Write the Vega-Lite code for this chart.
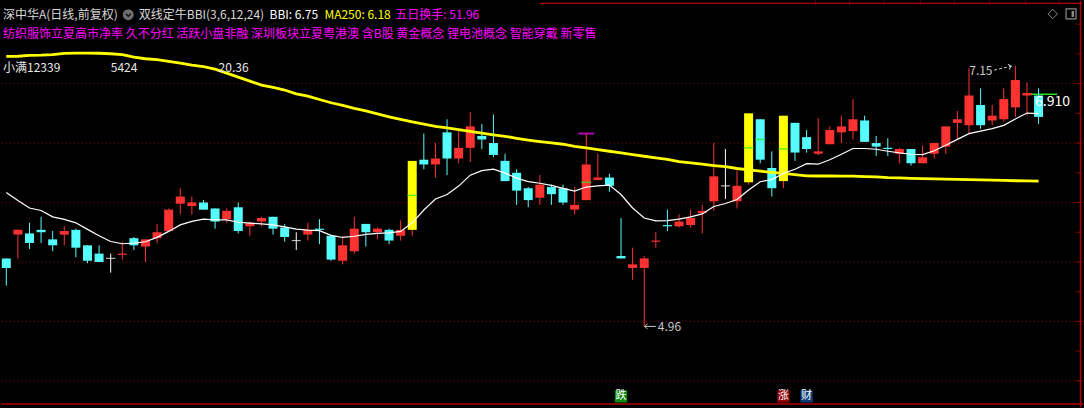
{
  "$schema": "https://vega.github.io/schema/vega-lite/v6.json",
  "width": 1084,
  "height": 408,
  "autosize": {"type": "fit", "contains": "padding"},
  "padding": 0,
  "background": "#000000",
  "config": {"view": {"stroke": null}, "font": "Noto Sans CJK SC", "scale": {"continuousPadding": 0}},
  "datasets": {
    "k": [
      {"i": 1, "o": 5.53, "c": 5.45, "h": 5.53, "l": 5.30, "t": "dn", "bbi": 6.085, "ma": 7.229},
      {"i": 2, "o": 5.73, "c": 5.77, "h": 5.77, "l": 5.53, "t": "up", "bbi": 6.017, "ma": 7.230},
      {"i": 3, "o": 5.74, "c": 5.66, "h": 5.83, "l": 5.61, "t": "dn", "bbi": 5.954, "ma": 7.237},
      {"i": 4, "o": 5.77, "c": 5.75, "h": 5.88, "l": 5.66, "t": "dn", "bbi": 5.933, "ma": 7.239},
      {"i": 5, "o": 5.69, "c": 5.64, "h": 5.76, "l": 5.59, "t": "dn", "bbi": 5.879, "ma": 7.244},
      {"i": 6, "o": 5.73, "c": 5.76, "h": 5.80, "l": 5.64, "t": "up", "bbi": 5.858, "ma": 7.255},
      {"i": 7, "o": 5.77, "c": 5.62, "h": 5.78, "l": 5.54, "t": "dn", "bbi": 5.829, "ma": 7.257},
      {"i": 8, "o": 5.64, "c": 5.51, "h": 5.64, "l": 5.49, "t": "dn", "bbi": 5.774, "ma": 7.257},
      {"i": 9, "o": 5.57, "c": 5.50, "h": 5.64, "l": 5.50, "t": "dn", "bbi": 5.720, "ma": 7.255},
      {"i": 10, "o": 5.53, "c": 5.53, "h": 5.57, "l": 5.41, "t": "flat", "bbi": 5.672, "ma": 7.251},
      {"i": 11, "o": 5.56, "c": 5.57, "h": 5.67, "l": 5.52, "t": "up", "bbi": 5.653, "ma": 7.243},
      {"i": 12, "o": 5.70, "c": 5.64, "h": 5.71, "l": 5.60, "t": "dn", "bbi": 5.659, "ma": 7.222},
      {"i": 13, "o": 5.63, "c": 5.69, "h": 5.69, "l": 5.50, "t": "up", "bbi": 5.670, "ma": 7.209},
      {"i": 14, "o": 5.70, "c": 5.75, "h": 5.82, "l": 5.66, "t": "up", "bbi": 5.707, "ma": 7.201},
      {"i": 15, "o": 5.76, "c": 5.94, "h": 5.95, "l": 5.76, "t": "up", "bbi": 5.757, "ma": 7.186},
      {"i": 16, "o": 5.99, "c": 6.05, "h": 6.12, "l": 5.90, "t": "up", "bbi": 5.812, "ma": 7.172},
      {"i": 17, "o": 5.97, "c": 6.00, "h": 6.05, "l": 5.90, "t": "up", "bbi": 5.841, "ma": 7.155},
      {"i": 18, "o": 6.00, "c": 5.94, "h": 6.02, "l": 5.94, "t": "dn", "bbi": 5.860, "ma": 7.142},
      {"i": 19, "o": 5.95, "c": 5.84, "h": 5.95, "l": 5.78, "t": "dn", "bbi": 5.854, "ma": 7.121},
      {"i": 20, "o": 5.86, "c": 5.93, "h": 5.95, "l": 5.83, "t": "up", "bbi": 5.854, "ma": 7.088},
      {"i": 21, "o": 5.96, "c": 5.76, "h": 6.00, "l": 5.74, "t": "dn", "bbi": 5.834, "ma": 7.054},
      {"i": 22, "o": 5.80, "c": 5.83, "h": 5.84, "l": 5.72, "t": "up", "bbi": 5.826, "ma": 7.021},
      {"i": 23, "o": 5.84, "c": 5.87, "h": 5.88, "l": 5.80, "t": "up", "bbi": 5.820, "ma": 6.988},
      {"i": 24, "o": 5.88, "c": 5.78, "h": 5.88, "l": 5.73, "t": "dn", "bbi": 5.812, "ma": 6.968},
      {"i": 25, "o": 5.79, "c": 5.71, "h": 5.82, "l": 5.67, "t": "dn", "bbi": 5.795, "ma": 6.946},
      {"i": 26, "o": 5.68, "c": 5.68, "h": 5.75, "l": 5.60, "t": "flat", "bbi": 5.776, "ma": 6.914},
      {"i": 27, "o": 5.73, "c": 5.77, "h": 5.83, "l": 5.68, "t": "up", "bbi": 5.767, "ma": 6.895},
      {"i": 28, "o": 5.78, "c": 5.77, "h": 5.86, "l": 5.65, "t": "dn", "bbi": 5.764, "ma": 6.866},
      {"i": 29, "o": 5.72, "c": 5.52, "h": 5.73, "l": 5.51, "t": "dn", "bbi": 5.724, "ma": 6.839},
      {"i": 30, "o": 5.51, "c": 5.64, "h": 5.72, "l": 5.48, "t": "up", "bbi": 5.706, "ma": 6.816},
      {"i": 31, "o": 5.59, "c": 5.78, "h": 5.88, "l": 5.57, "t": "up", "bbi": 5.716, "ma": 6.791},
      {"i": 32, "o": 5.82, "c": 5.75, "h": 5.82, "l": 5.63, "t": "dn", "bbi": 5.732, "ma": 6.770},
      {"i": 33, "o": 5.75, "c": 5.78, "h": 5.79, "l": 5.69, "t": "up", "bbi": 5.741, "ma": 6.745},
      {"i": 34, "o": 5.77, "c": 5.68, "h": 5.78, "l": 5.65, "t": "dn", "bbi": 5.745, "ma": 6.721},
      {"i": 35, "o": 5.72, "c": 5.77, "h": 5.85, "l": 5.68, "t": "up", "bbi": 5.757, "ma": 6.699},
      {"i": 36, "o": 5.77, "c": 6.35, "h": 6.35, "l": 5.72, "t": "zt", "bbi": 5.829, "ma": 6.678},
      {"i": 37, "o": 6.36, "c": 6.32, "h": 6.58, "l": 6.28, "t": "dn", "bbi": 5.937, "ma": 6.659},
      {"i": 38, "o": 6.32, "c": 6.37, "h": 6.50, "l": 6.21, "t": "up", "bbi": 6.029, "ma": 6.640},
      {"i": 39, "o": 6.59, "c": 6.37, "h": 6.70, "l": 6.23, "t": "dn", "bbi": 6.067, "ma": 6.628},
      {"i": 40, "o": 6.37, "c": 6.46, "h": 6.60, "l": 6.33, "t": "up", "bbi": 6.138, "ma": 6.613},
      {"i": 41, "o": 6.46, "c": 6.64, "h": 6.76, "l": 6.34, "t": "up", "bbi": 6.230, "ma": 6.598},
      {"i": 42, "o": 6.56, "c": 6.53, "h": 6.66, "l": 6.45, "t": "dn", "bbi": 6.268, "ma": 6.583},
      {"i": 43, "o": 6.50, "c": 6.40, "h": 6.74, "l": 6.38, "t": "dn", "bbi": 6.280, "ma": 6.569},
      {"i": 44, "o": 6.35, "c": 6.18, "h": 6.41, "l": 6.18, "t": "dn", "bbi": 6.247, "ma": 6.557},
      {"i": 45, "o": 6.25, "c": 6.10, "h": 6.28, "l": 5.98, "t": "dn", "bbi": 6.205, "ma": 6.540},
      {"i": 46, "o": 6.12, "c": 6.02, "h": 6.13, "l": 5.96, "t": "dn", "bbi": 6.176, "ma": 6.525},
      {"i": 47, "o": 6.04, "c": 6.15, "h": 6.23, "l": 5.98, "t": "up", "bbi": 6.162, "ma": 6.512},
      {"i": 48, "o": 6.13, "c": 6.07, "h": 6.15, "l": 5.98, "t": "dn", "bbi": 6.144, "ma": 6.501},
      {"i": 49, "o": 6.12, "c": 6.00, "h": 6.15, "l": 5.98, "t": "dn", "bbi": 6.119, "ma": 6.490},
      {"i": 50, "o": 5.94, "c": 5.98, "h": 6.13, "l": 5.90, "t": "up", "bbi": 6.096, "ma": 6.473},
      {"i": 51, "o": 6.02, "c": 6.32, "h": 6.58, "l": 6.02, "t": "up", "bbi": 6.130, "ma": 6.459},
      {"i": 52, "o": 6.19, "c": 6.21, "h": 6.41, "l": 6.19, "t": "up", "bbi": 6.140, "ma": 6.444},
      {"i": 53, "o": 6.21, "c": 6.14, "h": 6.24, "l": 6.09, "t": "dn", "bbi": 6.147, "ma": 6.431},
      {"i": 54, "o": 5.55, "c": 5.53, "h": 5.87, "l": 5.53, "t": "dn", "bbi": 6.067, "ma": 6.417},
      {"i": 55, "o": 5.45, "c": 5.48, "h": 5.62, "l": 5.35, "t": "up", "bbi": 5.954, "ma": 6.403},
      {"i": 56, "o": 5.45, "c": 5.53, "h": 5.55, "l": 4.96, "t": "up", "bbi": 5.870, "ma": 6.389},
      {"i": 57, "o": 5.67, "c": 5.68, "h": 5.75, "l": 5.62, "t": "up", "bbi": 5.845, "ma": 6.375},
      {"i": 58, "o": 5.81, "c": 5.80, "h": 5.94, "l": 5.76, "t": "dn", "bbi": 5.847, "ma": 6.362},
      {"i": 59, "o": 5.80, "c": 5.84, "h": 5.90, "l": 5.79, "t": "up", "bbi": 5.860, "ma": 6.343},
      {"i": 60, "o": 5.81, "c": 5.87, "h": 5.94, "l": 5.79, "t": "up", "bbi": 5.879, "ma": 6.333},
      {"i": 61, "o": 5.91, "c": 5.93, "h": 5.98, "l": 5.74, "t": "up", "bbi": 5.904, "ma": 6.322},
      {"i": 62, "o": 6.01, "c": 6.22, "h": 6.50, "l": 5.93, "t": "up", "bbi": 5.967, "ma": 6.311},
      {"i": 63, "o": 6.14, "c": 6.14, "h": 6.45, "l": 6.03, "t": "flat", "bbi": 5.992, "ma": 6.301},
      {"i": 64, "o": 6.01, "c": 6.14, "h": 6.27, "l": 5.95, "t": "up", "bbi": 6.025, "ma": 6.286},
      {"i": 65, "o": 6.17, "c": 6.75, "h": 6.75, "l": 6.15, "t": "zt", "bbi": 6.105, "ma": 6.275},
      {"i": 66, "o": 6.70, "c": 6.36, "h": 6.70, "l": 6.33, "t": "dn", "bbi": 6.175, "ma": 6.264},
      {"i": 67, "o": 6.29, "c": 6.12, "h": 6.43, "l": 6.05, "t": "dn", "bbi": 6.193, "ma": 6.254},
      {"i": 68, "o": 6.18, "c": 6.73, "h": 6.73, "l": 6.12, "t": "zt", "bbi": 6.245, "ma": 6.245},
      {"i": 69, "o": 6.67, "c": 6.42, "h": 6.67, "l": 6.35, "t": "dn", "bbi": 6.280, "ma": 6.234},
      {"i": 70, "o": 6.55, "c": 6.45, "h": 6.61, "l": 6.42, "t": "dn", "bbi": 6.327, "ma": 6.224},
      {"i": 71, "o": 6.41, "c": 6.43, "h": 6.71, "l": 6.40, "t": "up", "bbi": 6.322, "ma": 6.223},
      {"i": 72, "o": 6.49, "c": 6.61, "h": 6.64, "l": 6.49, "t": "up", "bbi": 6.360, "ma": 6.223},
      {"i": 73, "o": 6.59, "c": 6.64, "h": 6.73, "l": 6.50, "t": "up", "bbi": 6.406, "ma": 6.222},
      {"i": 74, "o": 6.60, "c": 6.70, "h": 6.87, "l": 6.53, "t": "up", "bbi": 6.454, "ma": 6.222},
      {"i": 75, "o": 6.69, "c": 6.51, "h": 6.73, "l": 6.51, "t": "dn", "bbi": 6.454, "ma": 6.218},
      {"i": 76, "o": 6.50, "c": 6.47, "h": 6.56, "l": 6.39, "t": "dn", "bbi": 6.448, "ma": 6.216},
      {"i": 77, "o": 6.46, "c": 6.45, "h": 6.54, "l": 6.39, "t": "dn", "bbi": 6.431, "ma": 6.209},
      {"i": 78, "o": 6.41, "c": 6.45, "h": 6.46, "l": 6.33, "t": "up", "bbi": 6.417, "ma": 6.207},
      {"i": 79, "o": 6.45, "c": 6.33, "h": 6.45, "l": 6.31, "t": "dn", "bbi": 6.406, "ma": 6.203},
      {"i": 80, "o": 6.33, "c": 6.38, "h": 6.48, "l": 6.33, "t": "up", "bbi": 6.403, "ma": 6.201},
      {"i": 81, "o": 6.41, "c": 6.50, "h": 6.50, "l": 6.37, "t": "up", "bbi": 6.435, "ma": 6.198},
      {"i": 82, "o": 6.47, "c": 6.64, "h": 6.64, "l": 6.41, "t": "up", "bbi": 6.481, "ma": 6.197},
      {"i": 83, "o": 6.67, "c": 6.70, "h": 6.77, "l": 6.53, "t": "up", "bbi": 6.531, "ma": 6.195},
      {"i": 84, "o": 6.65, "c": 6.90, "h": 7.13, "l": 6.58, "t": "up", "bbi": 6.579, "ma": 6.193},
      {"i": 85, "o": 6.82, "c": 6.65, "h": 6.96, "l": 6.62, "t": "dn", "bbi": 6.601, "ma": 6.191},
      {"i": 86, "o": 6.69, "c": 6.73, "h": 6.82, "l": 6.65, "t": "up", "bbi": 6.621, "ma": 6.188},
      {"i": 87, "o": 6.70, "c": 6.87, "h": 6.96, "l": 6.68, "t": "up", "bbi": 6.649, "ma": 6.186},
      {"i": 88, "o": 6.80, "c": 7.03, "h": 7.15, "l": 6.72, "t": "up", "bbi": 6.703, "ma": 6.183},
      {"i": 89, "o": 6.90, "c": 6.92, "h": 7.01, "l": 6.73, "t": "up", "bbi": 6.752, "ma": 6.182},
      {"i": 90, "o": 6.90, "c": 6.72, "h": 6.96, "l": 6.66, "t": "dn", "bbi": 6.747, "ma": 6.180}
    ],
    "avg": [
      {"i": 36, "p": 6.06},
      {"i": 51, "p": 6.17},
      {"i": 65, "p": 6.46},
      {"i": 66, "p": 6.53},
      {"i": 68, "p": 6.45}
    ],
    "grid": [{"p": 7.0}, {"p": 6.5}, {"p": 6.0}, {"p": 5.5}, {"p": 5.0}, {"p": 4.5}],
    "ticks": [
      {"p": 7.5}, {"p": 7.25}, {"p": 7.0}, {"p": 6.75}, {"p": 6.5}, {"p": 6.25}, {"p": 6.0},
      {"p": 5.75}, {"p": 5.5}, {"p": 5.25}, {"p": 5.0}, {"p": 4.75}, {"p": 4.5}
    ],
    "topTicks": [
      {"i": 70.77}, {"i": 73.70}, {"i": 76.71}, {"i": 79.81},
      {"i": 82.74}, {"i": 85.76}, {"i": 88.86}, {"i": 91.78}
    ],
    "txt": [
      {"i": 0.716, "p": 7.579, "s": "深中华A(日线,前复权)", "k": "title"},
      {"i": 12.42, "p": 7.579, "s": "双线定牛BBI(3,6,12,24)", "k": "title"},
      {"i": 23.694, "p": 7.579, "s": "BBI: 6.75", "k": "bbi"},
      {"i": 28.427, "p": 7.579, "s": "MA250: 6.18", "k": "ma"},
      {"i": 34.537, "p": 7.579, "s": "五日换手: 51.96", "k": "hs"},
      {"i": 0.716, "p": 7.421, "s": "纺织服饰立夏高市净率 久不分红 活跃小盘非融 深圳板块立夏粤港澳 含B股 黄金概念 锂电池概念 智能穿戴 新零售", "k": "hs"},
      {"i": 0.716, "p": 7.128, "s": "小满12339", "k": "note"},
      {"i": 10.01, "p": 7.128, "s": "5424", "k": "note"},
      {"i": 19.305, "p": 7.128, "s": "20.36", "k": "note"},
      {"i": 84.02, "p": 7.109, "s": "7.15", "k": "mark"},
      {"i": 57.17, "p": 4.950, "s": "4.96", "k": "mark"}
    ],
    "hiArrow": [{"i": 86.17, "p": 7.113}, {"i": 87.64, "p": 7.146}],
    "loArrow": [{"i": 56.05, "p": 4.958}, {"i": 57.0, "p": 4.958}],
    "tags": [
      {"i": 54, "p": 4.370, "s": "跌"},
      {"i": 68, "p": 4.370, "s": "涨"},
      {"i": 70, "p": 4.370, "s": "财"}
    ]
  },
  "layer": [
    {
      "data": {"name": "grid"},
      "mark": {"type": "rule", "stroke": "#8B0000", "strokeWidth": 1, "strokeDash": [1, 3]},
      "encoding": {
        "y": {"field": "p", "type": "quantitative", "scale": {"domain": [4.2803, 7.6946], "nice": false, "zero": false, "padding": 0}, "axis": null}
      }
    },
    {
      "data": {"values": [{}]},
      "mark": {"type": "rule", "stroke": "#B00000", "strokeWidth": 1.5},
      "encoding": {
        "x": {"datum": 93.617, "type": "quantitative", "scale": {"domain": [0.544, 93.83], "nice": false, "zero": false, "padding": 0}, "axis": null}
      }
    },
    {
      "data": {"values": [{}]},
      "mark": {"type": "rule", "stroke": "#B00000", "strokeWidth": 1.5},
      "encoding": {
        "y": {"datum": 4.3055, "type": "quantitative", "scale": {"domain": [4.2803, 7.6946], "nice": false, "zero": false, "padding": 0}, "axis": null}
      }
    },
    {
      "data": {"values": [{}]},
      "mark": {"type": "rule", "stroke": "#B00000", "strokeWidth": 1.2},
      "encoding": {
        "x": {"datum": 47.01, "type": "quantitative", "scale": {"domain": [0.544, 93.83], "nice": false, "zero": false, "padding": 0}, "axis": null},
        "x2": {"datum": 93.7},
        "y": {"datum": 7.6745, "type": "quantitative", "scale": {"domain": [4.2803, 7.6946], "nice": false, "zero": false, "padding": 0}, "axis": null}
      }
    },
    {
      "data": {"name": "topTicks"},
      "mark": {"type": "tick", "orient": "vertical", "size": 4, "thickness": 1, "color": "#B00000"},
      "encoding": {
        "x": {"field": "i", "type": "quantitative", "scale": {"domain": [0.544, 93.83], "nice": false, "zero": false, "padding": 0}, "axis": null},
        "y": {"datum": 7.679, "type": "quantitative", "scale": {"domain": [4.2803, 7.6946], "nice": false, "zero": false, "padding": 0}, "axis": null}
      }
    },
    {
      "data": {"name": "ticks"},
      "mark": {"type": "tick", "orient": "horizontal", "size": 5, "thickness": 1, "color": "#B00000"},
      "encoding": {
        "x": {"datum": 93.4, "type": "quantitative", "scale": {"domain": [0.544, 93.83], "nice": false, "zero": false, "padding": 0}, "axis": null},
        "y": {"field": "p", "type": "quantitative", "scale": {"domain": [4.2803, 7.6946], "nice": false, "zero": false, "padding": 0}, "axis": null}
      }
    },
    {
      "data": {"values": [{}]},
      "mark": {"type": "rule", "stroke": "#22E022", "strokeWidth": 1.5},
      "encoding": {
        "x": {"datum": 88.67, "type": "quantitative", "scale": {"domain": [0.544, 93.83], "nice": false, "zero": false, "padding": 0}, "axis": null},
        "x2": {"datum": 91.6},
        "y": {"datum": 6.91, "type": "quantitative", "scale": {"domain": [4.2803, 7.6946], "nice": false, "zero": false, "padding": 0}, "axis": null}
      }
    },
    {
      "data": {"name": "k"},
      "mark": {"type": "rule", "strokeWidth": 1},
      "encoding": {
        "x": {"field": "i", "type": "quantitative", "scale": {"domain": [0.544, 93.83], "nice": false, "zero": false, "padding": 0}, "axis": null},
        "y": {"field": "h", "type": "quantitative", "scale": {"domain": [4.2803, 7.6946], "nice": false, "zero": false, "padding": 0}, "axis": null},
        "y2": {"field": "l"},
        "stroke": {"field": "t", "type": "nominal", "scale": {"domain": ["up", "dn", "flat", "zt"], "range": ["#FF3232", "#54FCFC", "#FFFFFF", "#FF3232"]}, "legend": null}
      }
    },
    {
      "data": {"name": "k"},
      "transform": [{"filter": "datum.t != 'flat'"}],
      "mark": {"type": "bar", "size": 9, "stroke": null},
      "encoding": {
        "x": {"field": "i", "type": "quantitative", "scale": {"domain": [0.544, 93.83], "nice": false, "zero": false, "padding": 0}, "axis": null},
        "y": {"field": "o", "type": "quantitative", "scale": {"domain": [4.2803, 7.6946], "nice": false, "zero": false, "padding": 0}, "axis": null},
        "y2": {"field": "c"},
        "fill": {"field": "t", "type": "nominal", "scale": {"domain": ["up", "dn", "flat", "zt"], "range": ["#FF3232", "#54FCFC", "#FFFFFF", "#FFFF00"]}, "legend": null}
      }
    },
    {
      "data": {"name": "k"},
      "transform": [{"filter": "datum.t == 'flat'"}],
      "mark": {"type": "tick", "orient": "horizontal", "size": 9, "thickness": 1.2, "color": "#FFFFFF"},
      "encoding": {
        "x": {"field": "i", "type": "quantitative", "scale": {"domain": [0.544, 93.83], "nice": false, "zero": false, "padding": 0}, "axis": null},
        "y": {"field": "c", "type": "quantitative", "scale": {"domain": [4.2803, 7.6946], "nice": false, "zero": false, "padding": 0}, "axis": null}
      }
    },
    {
      "data": {"name": "avg"},
      "mark": {"type": "tick", "orient": "horizontal", "size": 10, "thickness": 1.5, "color": "#22EE22"},
      "encoding": {
        "x": {"field": "i", "type": "quantitative", "scale": {"domain": [0.544, 93.83], "nice": false, "zero": false, "padding": 0}, "axis": null},
        "y": {"field": "p", "type": "quantitative", "scale": {"domain": [4.2803, 7.6946], "nice": false, "zero": false, "padding": 0}, "axis": null}
      }
    },
    {
      "data": {"values": [{}]},
      "mark": {"type": "tick", "orient": "horizontal", "size": 16, "thickness": 2, "color": "#FF00FF"},
      "encoding": {
        "x": {"datum": 51, "type": "quantitative", "scale": {"domain": [0.544, 93.83], "nice": false, "zero": false, "padding": 0}, "axis": null},
        "y": {"datum": 6.58, "type": "quantitative", "scale": {"domain": [4.2803, 7.6946], "nice": false, "zero": false, "padding": 0}, "axis": null}
      }
    },
    {
      "data": {"name": "k"},
      "mark": {"type": "line", "stroke": "#FFFF00", "strokeWidth": 2.8},
      "encoding": {
        "x": {"field": "i", "type": "quantitative", "scale": {"domain": [0.544, 93.83], "nice": false, "zero": false, "padding": 0}, "axis": null},
        "y": {"field": "ma", "type": "quantitative", "scale": {"domain": [4.2803, 7.6946], "nice": false, "zero": false, "padding": 0}, "axis": null}
      }
    },
    {
      "data": {"name": "k"},
      "mark": {"type": "line", "stroke": "#FFFFFF", "strokeWidth": 1.2},
      "encoding": {
        "x": {"field": "i", "type": "quantitative", "scale": {"domain": [0.544, 93.83], "nice": false, "zero": false, "padding": 0}, "axis": null},
        "y": {"field": "bbi", "type": "quantitative", "scale": {"domain": [4.2803, 7.6946], "nice": false, "zero": false, "padding": 0}, "axis": null}
      }
    },
    {
      "data": {"name": "hiArrow"},
      "mark": {"type": "line", "stroke": "#C8C8C8", "strokeWidth": 1, "strokeDash": [3, 2]},
      "encoding": {
        "x": {"field": "i", "type": "quantitative", "scale": {"domain": [0.544, 93.83], "nice": false, "zero": false, "padding": 0}, "axis": null},
        "y": {"field": "p", "type": "quantitative", "scale": {"domain": [4.2803, 7.6946], "nice": false, "zero": false, "padding": 0}, "axis": null}
      }
    },
    {
      "data": {"values": [{}]},
      "mark": {"type": "point", "shape": "M-1,-1L0,0L-1,1", "filled": false, "stroke": "#C8C8C8", "strokeWidth": 1, "size": 30, "angle": -13, "opacity": 1},
      "encoding": {
        "x": {"datum": 87.64, "type": "quantitative", "scale": {"domain": [0.544, 93.83], "nice": false, "zero": false, "padding": 0}, "axis": null},
        "y": {"datum": 7.146, "type": "quantitative", "scale": {"domain": [4.2803, 7.6946], "nice": false, "zero": false, "padding": 0}, "axis": null}
      }
    },
    {
      "data": {"name": "loArrow"},
      "mark": {"type": "line", "stroke": "#C8C8C8", "strokeWidth": 1},
      "encoding": {
        "x": {"field": "i", "type": "quantitative", "scale": {"domain": [0.544, 93.83], "nice": false, "zero": false, "padding": 0}, "axis": null},
        "y": {"field": "p", "type": "quantitative", "scale": {"domain": [4.2803, 7.6946], "nice": false, "zero": false, "padding": 0}, "axis": null}
      }
    },
    {
      "data": {"values": [{}]},
      "mark": {"type": "point", "shape": "M1,-1L0,0L1,1", "filled": false, "stroke": "#C8C8C8", "strokeWidth": 1, "size": 30, "opacity": 1},
      "encoding": {
        "x": {"datum": 56.05, "type": "quantitative", "scale": {"domain": [0.544, 93.83], "nice": false, "zero": false, "padding": 0}, "axis": null},
        "y": {"datum": 4.958, "type": "quantitative", "scale": {"domain": [4.2803, 7.6946], "nice": false, "zero": false, "padding": 0}, "axis": null}
      }
    },
    {
      "data": {"name": "txt"},
      "mark": {"type": "text", "align": "left", "baseline": "middle", "fontSize": 12, "font": "Noto Sans CJK SC"},
      "encoding": {
        "x": {"field": "i", "type": "quantitative", "scale": {"domain": [0.544, 93.83], "nice": false, "zero": false, "padding": 0}, "axis": null},
        "y": {"field": "p", "type": "quantitative", "scale": {"domain": [4.2803, 7.6946], "nice": false, "zero": false, "padding": 0}, "axis": null},
        "text": {"field": "s"},
        "color": {"field": "k", "type": "nominal", "scale": {"domain": ["title", "bbi", "ma", "hs", "note", "mark", "跌", "涨", "财"], "range": ["#D8D8D8", "#FFFFFF", "#FFFF00", "#FF00FF", "#E8E8E8", "#C8C8C8", "#0A8A0A", "#900000", "#0B3C78"]}, "legend": null}
      }
    },
    {
      "data": {"values": [{}]},
      "mark": {"type": "text", "align": "left", "baseline": "middle", "fontSize": 14, "font": "Noto Sans CJK SC", "color": "#FFFFFF", "text": "6.910"},
      "encoding": {
        "x": {"datum": 89.7, "type": "quantitative", "scale": {"domain": [0.544, 93.83], "nice": false, "zero": false, "padding": 0}, "axis": null},
        "y": {"datum": 6.844, "type": "quantitative", "scale": {"domain": [4.2803, 7.6946], "nice": false, "zero": false, "padding": 0}, "axis": null}
      }
    },
    {
      "data": {"values": [{}]},
      "mark": {"type": "point", "shape": "circle", "filled": true, "color": "#6E6E6E", "size": 120, "opacity": 1},
      "encoding": {
        "x": {"datum": 11.517, "type": "quantitative", "scale": {"domain": [0.544, 93.83], "nice": false, "zero": false, "padding": 0}, "axis": null},
        "y": {"datum": 7.579, "type": "quantitative", "scale": {"domain": [4.2803, 7.6946], "nice": false, "zero": false, "padding": 0}, "axis": null}
      }
    },
    {
      "data": {"values": [{}]},
      "mark": {"type": "point", "shape": "M-0.5,-0.2L0,0.3L0.5,-0.2", "filled": false, "stroke": "#111111", "strokeWidth": 1.5, "size": 100, "opacity": 1},
      "encoding": {
        "x": {"datum": 11.517, "type": "quantitative", "scale": {"domain": [0.544, 93.83], "nice": false, "zero": false, "padding": 0}, "axis": null},
        "y": {"datum": 7.579, "type": "quantitative", "scale": {"domain": [4.2803, 7.6946], "nice": false, "zero": false, "padding": 0}, "axis": null}
      }
    },
    {
      "data": {"values": [{}]},
      "mark": {"type": "point", "shape": "diamond", "filled": false, "stroke": "#8A8A8A", "strokeWidth": 1, "size": 90, "opacity": 1},
      "encoding": {
        "x": {"datum": 91.216, "type": "quantitative", "scale": {"domain": [0.544, 93.83], "nice": false, "zero": false, "padding": 0}, "axis": null},
        "y": {"datum": 7.586, "type": "quantitative", "scale": {"domain": [4.2803, 7.6946], "nice": false, "zero": false, "padding": 0}, "axis": null}
      }
    },
    {
      "data": {"values": [{}]},
      "mark": {"type": "point", "shape": "square", "filled": false, "stroke": "#8A8A8A", "strokeWidth": 1.2, "size": 100, "opacity": 1},
      "encoding": {
        "x": {"datum": 92.8, "type": "quantitative", "scale": {"domain": [0.544, 93.83], "nice": false, "zero": false, "padding": 0}, "axis": null},
        "y": {"datum": 7.586, "type": "quantitative", "scale": {"domain": [4.2803, 7.6946], "nice": false, "zero": false, "padding": 0}, "axis": null}
      }
    },
    {
      "data": {"values": [{}]},
      "mark": {"type": "point", "shape": "M0.1,-0.6L0.6,-0.6L0.6,0.6L0.1,0.6Z", "filled": true, "color": "#8A8A8A", "size": 100, "opacity": 1},
      "encoding": {
        "x": {"datum": 92.8, "type": "quantitative", "scale": {"domain": [0.544, 93.83], "nice": false, "zero": false, "padding": 0}, "axis": null},
        "y": {"datum": 7.586, "type": "quantitative", "scale": {"domain": [4.2803, 7.6946], "nice": false, "zero": false, "padding": 0}, "axis": null}
      }
    },
    {
      "data": {"name": "tags"},
      "mark": {"type": "point", "shape": "square", "filled": true, "size": 150, "opacity": 1},
      "encoding": {
        "x": {"field": "i", "type": "quantitative", "scale": {"domain": [0.544, 93.83], "nice": false, "zero": false, "padding": 0}, "axis": null},
        "y": {"field": "p", "type": "quantitative", "scale": {"domain": [4.2803, 7.6946], "nice": false, "zero": false, "padding": 0}, "axis": null},
        "color": {"field": "s", "type": "nominal", "scale": {"domain": ["title", "bbi", "ma", "hs", "note", "mark", "跌", "涨", "财"], "range": ["#D8D8D8", "#FFFFFF", "#FFFF00", "#FF00FF", "#E8E8E8", "#C8C8C8", "#0A8A0A", "#900000", "#0B3C78"]}, "legend": null}
      }
    },
    {
      "data": {"name": "tags"},
      "mark": {"type": "text", "align": "center", "baseline": "middle", "fontSize": 11, "font": "Noto Sans CJK SC", "color": "#FFFFFF"},
      "encoding": {
        "x": {"field": "i", "type": "quantitative", "scale": {"domain": [0.544, 93.83], "nice": false, "zero": false, "padding": 0}, "axis": null},
        "y": {"field": "p", "type": "quantitative", "scale": {"domain": [4.2803, 7.6946], "nice": false, "zero": false, "padding": 0}, "axis": null},
        "text": {"field": "s"}
      }
    }
  ]
}
